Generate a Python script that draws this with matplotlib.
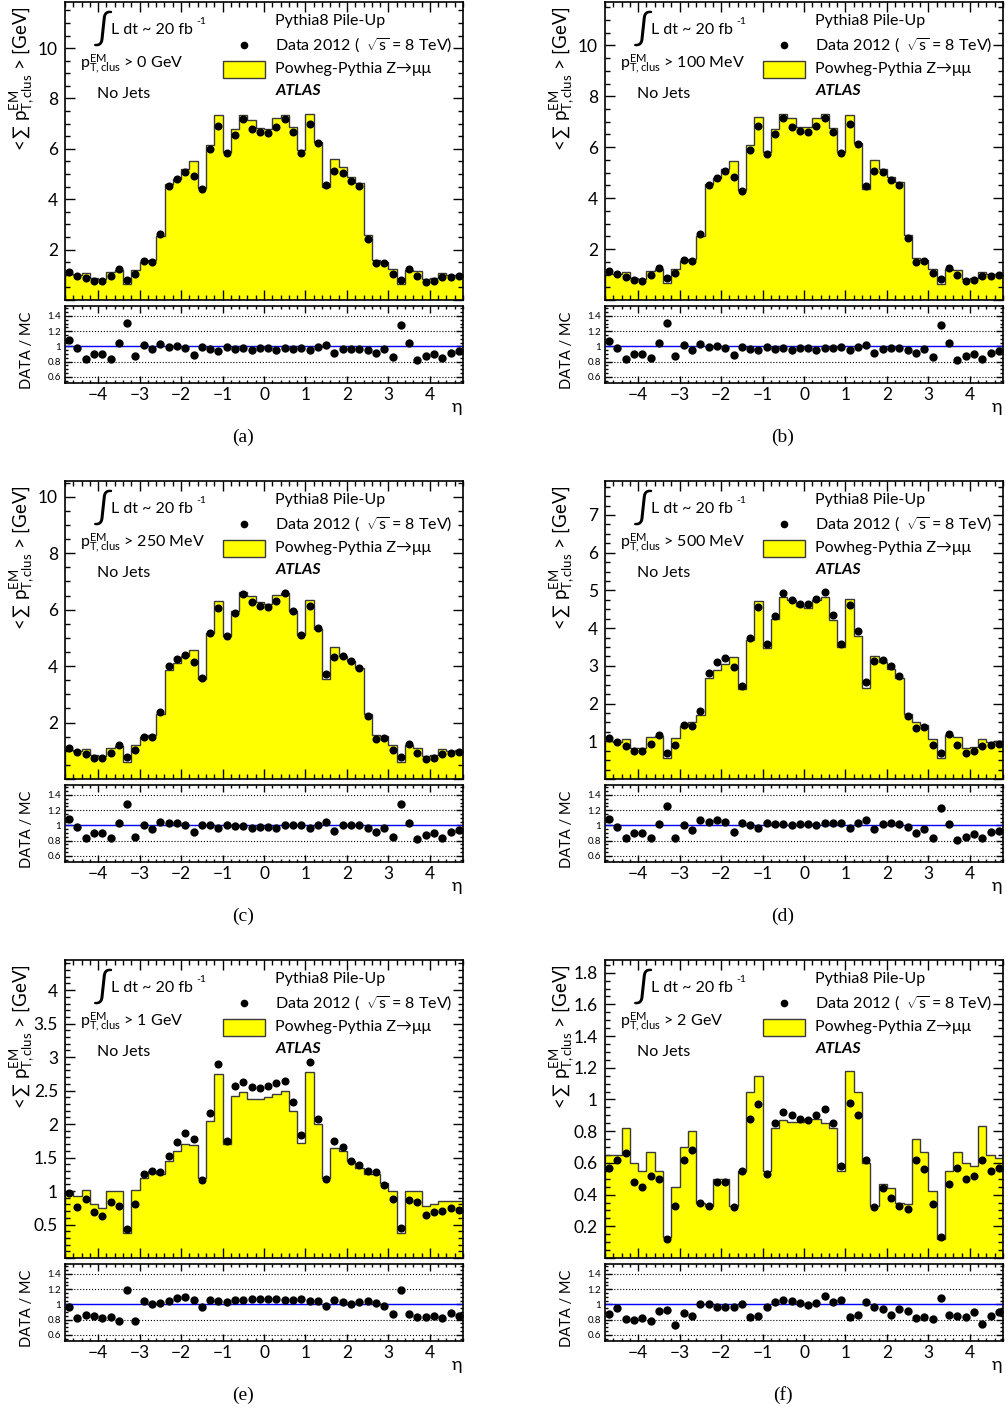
import numpy as np
import matplotlib
matplotlib.use('Agg')
import matplotlib.pyplot as plt
from matplotlib.ticker import MultipleLocator, AutoMinorLocator, FuncFormatter
from matplotlib.patches import Rectangle

plt.rcParams['font.family'] = ['Lato', 'DejaVu Sans']
plt.rcParams['mathtext.fontset'] = 'custom'
plt.rcParams['mathtext.rm'] = 'Lato'
plt.rcParams['mathtext.it'] = 'Lato:italic'
plt.rcParams['mathtext.bf'] = 'Lato:bold'

# eta binning: 48 bins of 0.2 between -4.8 and 4.8
eta_edges = np.linspace(-4.8, 4.8, 49)
eta_centers = 0.5 * (eta_edges[:-1] + eta_edges[1:])

a_data = [1.10, 0.96, 0.89, 0.77, 0.74, 0.94, 1.23, 0.81, 1.05, 1.53, 1.51, 2.62, 4.54, 4.81, 5.10, 4.92,
          4.39, 5.98, 6.92, 5.82, 6.57, 7.17, 6.80, 6.67, 6.61, 6.85, 7.19, 6.65, 5.84, 7.00, 6.23, 4.57,
          5.13, 5.06, 4.72, 4.52, 2.44, 1.45, 1.47, 1.05, 0.81, 1.24, 0.94, 0.72, 0.77, 0.91, 0.91, 0.95]
a_mc = [1.02, 0.98, 1.06, 0.86, 0.82, 1.12, 1.18, 0.62, 1.21, 1.51, 1.57, 2.53, 4.59, 4.81, 5.20, 5.53,
        4.43, 6.16, 7.36, 5.88, 6.77, 7.35, 7.16, 6.84, 6.78, 7.21, 7.34, 6.86, 5.96, 7.37, 6.29, 4.48,
        5.58, 5.27, 4.87, 4.66, 2.57, 1.59, 1.52, 1.22, 0.63, 1.19, 1.15, 0.82, 0.86, 1.08, 1.00, 1.01]

b_data = [1.12, 1.01, 0.92, 0.78, 0.76, 0.97, 1.27, 0.85, 1.06, 1.56, 1.52, 2.61, 4.52, 4.78, 5.06, 4.84,
          4.27, 5.90, 6.82, 5.74, 6.52, 7.14, 6.78, 6.64, 6.61, 6.84, 7.15, 6.61, 5.76, 6.90, 6.12, 4.46,
          5.05, 5.01, 4.71, 4.50, 2.43, 1.48, 1.52, 1.06, 0.82, 1.27, 0.97, 0.73, 0.78, 0.93, 0.93, 0.98]
b_mc = [1.04, 1.03, 1.10, 0.87, 0.84, 1.15, 1.22, 0.65, 1.22, 1.53, 1.60, 2.52, 4.57, 4.78, 5.16, 5.44,
        4.31, 6.08, 7.18, 5.80, 6.72, 7.29, 7.14, 6.81, 6.78, 7.13, 7.30, 6.74, 5.82, 7.26, 6.18, 4.37,
        5.49, 5.16, 4.81, 4.62, 2.56, 1.63, 1.57, 1.23, 0.64, 1.22, 1.18, 0.83, 0.87, 1.11, 1.02, 1.04]

c_data = [1.11, 0.97, 0.88, 0.76, 0.73, 0.93, 1.21, 0.78, 1.01, 1.50, 1.49, 2.39, 3.99, 4.25, 4.40, 4.15,
          3.57, 5.16, 6.06, 5.05, 5.88, 6.56, 6.26, 6.13, 6.11, 6.31, 6.58, 5.95, 5.09, 6.13, 5.36, 3.72,
          4.33, 4.36, 4.18, 3.95, 2.24, 1.43, 1.47, 1.01, 0.78, 1.23, 0.91, 0.70, 0.76, 0.89, 0.91, 0.95]
c_mc = [1.03, 0.99, 1.05, 0.84, 0.81, 1.11, 1.17, 0.61, 1.19, 1.49, 1.57, 2.29, 3.87, 4.11, 4.36, 4.56,
        3.53, 5.16, 6.31, 5.05, 5.94, 6.63, 6.49, 6.26, 6.20, 6.51, 6.58, 5.95, 5.09, 6.35, 5.31, 3.56,
        4.66, 4.36, 4.18, 3.95, 2.32, 1.57, 1.52, 1.20, 0.61, 1.19, 1.11, 0.80, 0.85, 1.06, 1.00, 1.01]

d_data = [1.08, 0.97, 0.88, 0.75, 0.73, 0.92, 1.17, 0.70, 0.90, 1.42, 1.41, 1.81, 2.80, 3.10, 3.20, 2.98,
          2.47, 3.73, 4.55, 3.58, 4.32, 4.92, 4.75, 4.65, 4.63, 4.77, 4.96, 4.35, 3.59, 4.62, 3.92, 2.58,
          3.12, 3.16, 3.00, 2.74, 1.68, 1.35, 1.37, 0.89, 0.69, 1.19, 0.90, 0.69, 0.75, 0.88, 0.90, 0.94]
d_mc = [1.00, 0.99, 1.05, 0.83, 0.81, 1.11, 1.15, 0.56, 1.08, 1.41, 1.50, 1.69, 2.67, 2.90, 3.05, 3.24,
        2.39, 3.69, 4.72, 3.48, 4.24, 4.82, 4.75, 4.58, 4.54, 4.75, 4.82, 4.22, 3.49, 4.76, 3.79, 2.41,
        3.27, 3.10, 2.91, 2.69, 1.71, 1.50, 1.44, 1.07, 0.56, 1.17, 1.11, 0.81, 0.85, 1.05, 0.99, 1.01]

e_data = [0.97, 0.76, 0.88, 0.68, 0.62, 0.84, 0.78, 0.44, 0.80, 1.26, 1.30, 1.28, 1.52, 1.73, 1.87, 1.78,
          1.16, 2.17, 2.89, 1.75, 2.57, 2.63, 2.55, 2.54, 2.57, 2.62, 2.65, 2.33, 1.84, 2.92, 2.08, 1.18,
          1.75, 1.66, 1.45, 1.39, 1.30, 1.28, 1.09, 0.88, 0.45, 0.87, 0.83, 0.64, 0.68, 0.70, 0.75, 0.72]
e_mc = [1.00, 0.93, 1.02, 0.80, 0.75, 1.00, 1.00, 0.37, 1.02, 1.20, 1.30, 1.25, 1.45, 1.60, 1.70, 1.68,
        1.20, 2.05, 2.75, 1.70, 2.42, 2.48, 2.38, 2.37, 2.40, 2.45, 2.50, 2.20, 1.72, 2.78, 2.00, 1.20,
        1.65, 1.60, 1.45, 1.35, 1.25, 1.25, 1.12, 1.00, 0.38, 1.00, 1.00, 0.77, 0.80, 0.85, 0.85, 0.85]

f_data = [0.57, 0.62, 0.66, 0.48, 0.45, 0.52, 0.50, 0.12, 0.33, 0.62, 0.68, 0.35, 0.33, 0.48, 0.48, 0.32,
          0.55, 0.88, 0.97, 0.53, 0.85, 0.92, 0.90, 0.88, 0.87, 0.90, 0.94, 0.85, 0.58, 0.98, 0.90, 0.62,
          0.32, 0.44, 0.38, 0.33, 0.31, 0.62, 0.56, 0.34, 0.13, 0.47, 0.57, 0.50, 0.52, 0.62, 0.55, 0.57]
f_mc = [0.65, 0.65, 0.82, 0.60, 0.55, 0.67, 0.55, 0.13, 0.45, 0.70, 0.80, 0.35, 0.33, 0.50, 0.50, 0.33,
        0.55, 1.05, 1.15, 0.55, 0.82, 0.87, 0.86, 0.86, 0.88, 0.88, 0.85, 0.82, 0.55, 1.18, 1.05, 0.60,
        0.33, 0.47, 0.44, 0.35, 0.34, 0.75, 0.67, 0.42, 0.12, 0.55, 0.67, 0.60, 0.58, 0.83, 0.65, 0.63]

cut_labels = ['> 0 GeV', '> 100 MeV', '> 250 MeV', '> 500 MeV', '> 1 GeV', '> 2 GeV']
letters = ['(a)', '(b)', '(c)', '(d)', '(e)', '(f)']
y_max = [11.83, 11.7, 10.56, 7.9, 4.45, 1.88]
y_step = [2, 2, 2, 1, 0.5, 0.2]
y_minor = [4, 4, 4, 4, 5, 4]
datas = [a_data, b_data, c_data, d_data, e_data, f_data]
mcs = [a_mc, b_mc, c_mc, d_mc, e_mc, f_mc]

W, H = 1006, 1411
fig = plt.figure(figsize=(W / 100, H / 100), dpi=100)

col_x = [65, 605]
row_top = [2, 481, 960]
pw, ph, rh = 398, 298, 77


def tick_fmt(v, pos):
    if abs(v) < 1e-9:
        return ''
    return f'{v:g}'


for i in range(6):
    x0 = col_x[i % 2]
    top = row_top[i // 2]
    data = np.array(datas[i])
    mc = np.array(mcs[i])

    ax = fig.add_axes([x0 / W, 1 - (top + ph) / H, pw / W, ph / H])
    ax.stairs(mc, eta_edges, fill=True, color='#ffff00', zorder=1)
    ax.stairs(mc, eta_edges, color='#3a3a3a', lw=1.0, zorder=2)
    ax.plot(eta_centers, data, 'o', color='black', ms=4.8, zorder=3)
    ax.set_xlim(-4.8, 4.8)
    ax.set_ylim(0, y_max[i])
    ax.xaxis.set_major_locator(MultipleLocator(1))
    ax.xaxis.set_minor_locator(MultipleLocator(0.2))
    ax.yaxis.set_major_locator(MultipleLocator(y_step[i]))
    ax.yaxis.set_minor_locator(AutoMinorLocator(y_minor[i]))
    ax.yaxis.set_major_formatter(FuncFormatter(tick_fmt))
    ax.tick_params(which='both', direction='in', top=True, right=True, labelbottom=False, width=1)
    ax.tick_params(which='major', length=7, labelsize=12.5, pad=5)
    ax.tick_params(which='minor', length=3.5)
    for s in ax.spines.values():
        s.set_linewidth(1.2)

    ax.text(-0.108, 0.985, r'$<\!\sum\ \mathrm{p}^{\rm EM}_{\rm T,clus}$ > [GeV]', rotation=90,
            ha='center', va='top', fontsize=13.5, transform=ax.transAxes)

    # labels on the plot
    ax.text(0.095, 0.912, r'$\int$', fontsize=26, ha='center', va='center', transform=ax.transAxes)
    ax.text(0.116, 0.906, 'L dt ~ 20 fb', fontsize=11.5, ha='left', va='center', transform=ax.transAxes)
    ax.text(0.330, 0.935, '-1', fontsize=7.5, ha='left', va='center', transform=ax.transAxes)
    ax.text(0.038, 0.790, r'$\mathrm{p}^{\rm EM}_{\rm T,clus}$ ' + cut_labels[i], fontsize=11.5,
            ha='left', va='center', transform=ax.transAxes)
    ax.text(0.080, 0.691, 'No Jets', fontsize=11.5, ha='left', va='center', transform=ax.transAxes)

    ax.text(0.528, 0.936, 'Pythia8 Pile-Up', fontsize=11.5, ha='left', va='center', transform=ax.transAxes)
    ax.plot([0.450], [0.856], 'o', color='black', ms=4.5, transform=ax.transAxes)
    ax.text(0.528, 0.856, r'Data 2012 (  $\sqrt{\mathrm{s}}$ = 8 TeV)', fontsize=11.5, ha='left',
            va='center', transform=ax.transAxes)
    ax.add_patch(Rectangle((0.397, 0.745), 0.106, 0.057, transform=ax.transAxes,
                           facecolor='#ffff00', edgecolor='#3a3a3a', lw=1))
    ax.text(0.528, 0.776, 'Powheg-Pythia Z\u2192\u03bc\u03bc', fontsize=11.5, ha='left', va='center',
            transform=ax.transAxes)
    ax.text(0.528, 0.700, 'ATLAS', fontsize=11.5, fontweight='bold', fontstyle='italic',
            ha='left', va='center', transform=ax.transAxes)

    # ratio panel
    r = fig.add_axes([x0 / W, 1 - (top + 304 + rh) / H, pw / W, rh / H])
    for v in [0.6, 0.8, 1.0, 1.2, 1.4]:
        r.axhline(v, color='black', ls=':', lw=0.8, zorder=1)
    r.axhline(1.0, color='blue', lw=1.0, zorder=2)
    r.plot(eta_centers, data / mc, 'o', color='black', ms=5, zorder=3)
    r.set_xlim(-4.8, 4.8)
    r.set_ylim(0.52, 1.53)
    r.set_yticks([0.6, 0.8, 1.0, 1.2, 1.4])
    r.set_yticklabels(['0.6', '0.8', '1', '1.2', '1.4'])
    r.yaxis.set_minor_locator(MultipleLocator(0.05))
    r.xaxis.set_major_locator(MultipleLocator(1))
    r.xaxis.set_minor_locator(MultipleLocator(0.2))
    r.tick_params(which='both', direction='in', top=True, right=True, width=1)
    r.tick_params(axis='x', which='major', length=5, labelsize=12.5, pad=3)
    r.tick_params(axis='y', which='major', length=5, labelsize=7, pad=3)
    r.tick_params(which='minor', length=2.5)
    for s in r.spines.values():
        s.set_linewidth(1.2)
    r.text(-0.095, 0.42, 'DATA / MC', rotation=90, ha='center', va='center', fontsize=10.5,
           transform=r.transAxes)
    r.text(0.985, -0.31, '\u03b7', ha='center', va='center', fontsize=13, transform=r.transAxes)

    fig.text((x0 + 178) / W, 1 - (top + 435) / H, letters[i], ha='center', va='center',
             fontsize=14, family='Liberation Serif')

fig.savefig('out.png', dpi=100)
